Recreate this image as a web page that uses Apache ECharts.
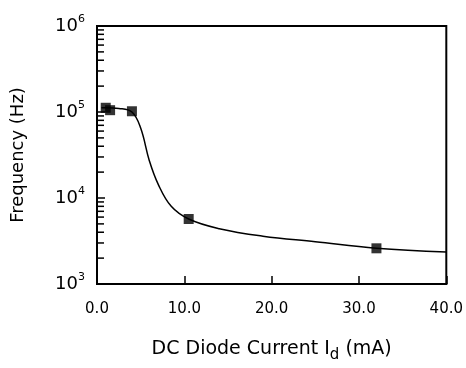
<!DOCTYPE html>
<html>
<head>
<meta charset="utf-8">
<script src="https://cdn.jsdelivr.net/npm/echarts@6/dist/echarts.min.js"></script>
<style>
  html, body { margin: 0; padding: 0; background: #fff; }
  #chart { width: 466px; height: 368px; }
</style>
</head>
<body>
<div id="chart"></div>
<script>
// measured points (mA, Hz)
const currents = [1.0, 1.5, 4.0, 10.5, 32.0]
const frequencies = [1.12e5, 1.05e5, 1.02e5, 5.7e3, 2.6e3]

// hand-drawn fit curve
const curveX = [0.5, 1.0, 2.5, 4.0, 5.0, 6.0, 7.0, 8.5, 10.5, 14.0, 19.0, 25.0, 32.0, 40.0]
const curveY = [1.12e5, 1.12e5, 1.1e5, 1.0e5, 6.5e4, 2.7e4, 1.45e4, 8.0e3, 5.7e3, 4.4e3, 3.6e3, 3.1e3, 2.6e3, 2.35e3]

// y axis: decades and minor tick multipliers
const decades = [1e3, 1e4, 1e5]
const minorMultipliers = [2, 3, 4, 5, 6, 7, 8, 9]

const font = 'DejaVu Sans'

const chart = echarts.init(document.getElementById('chart'))

// minor tick values on the log axis
const minorTicks = []
decades.forEach((d) => {
  minorMultipliers.forEach((m) => minorTicks.push([0, d * m]))
})

chart.setOption({
  animation: false,
  grid: {
    left: 97,
    right: 16,
    top: 26,
    bottom: 75,
    show: true,
    borderColor: '#000',
    borderWidth: 2
  },
  xAxis: {
    type: 'value',
    min: 0,
    max: 40,
    interval: 10,
    axisLine: { show: true, lineStyle: { color: '#000', width: 2 } },
    axisTick: { show: true, inside: true, length: 8, lineStyle: { color: '#000', width: 1.5 } },
    splitLine: { show: false },
    axisLabel: {
      color: '#000',
      fontFamily: font,
      fontSize: 15,
      margin: 18,
      formatter: (v) => v.toFixed(1)
    },
    name: '{n|DC Diode Current I}{s|d}{n| (mA)}',
    nameLocation: 'middle',
    nameGap: 52,
    nameTextStyle: {
      rich: {
        n: { fontFamily: font, fontSize: 19, color: '#000' },
        s: { fontFamily: font, fontSize: 15, color: '#000', padding: [12, 0, 0, 0] }
      }
    }
  },
  yAxis: {
    type: 'log',
    logBase: 10,
    min: 1e3,
    max: 1e6,
    axisLine: { show: true, lineStyle: { color: '#000', width: 2 } },
    axisTick: { show: true, inside: true, length: 8, lineStyle: { color: '#000', width: 1.5 } },
    splitLine: { show: false },
    axisLabel: {
      margin: 12,
      formatter: (v) => '{b|10}{e|' + Math.round(Math.log10(v)) + '}',
      rich: {
        b: { fontFamily: font, fontSize: 18, color: '#000' },
        e: { fontFamily: font, fontSize: 11, color: '#000', padding: [0, 0, 14, 0] }
      }
    },
    name: 'Frequency (Hz)',
    nameLocation: 'middle',
    nameGap: 70,
    nameTextStyle: { fontFamily: font, fontSize: 18, color: '#000' }
  },
  series: [
    {
      type: 'custom',
      data: minorTicks,
      silent: true,
      renderItem: (params, api) => {
        const p = api.coord([api.value(0), api.value(1)])
        return {
          type: 'line',
          shape: { x1: p[0], y1: p[1], x2: p[0] + 7, y2: p[1] },
          style: { stroke: '#000', lineWidth: 1.5 }
        }
      },
      clip: false,
      z: 3
    },
    {
      type: 'line',
      data: curveX.map((x, i) => [x, curveY[i]]),
      smooth: 0.4,
      showSymbol: false,
      lineStyle: { color: '#000', width: 1.5 },
      silent: true
    },
    {
      type: 'scatter',
      data: currents.map((x, i) => [x, frequencies[i]]),
      symbol: 'rect',
      symbolSize: 10,
      itemStyle: { color: '#000' }
    }
  ]
})
</script>
</body>
</html>
